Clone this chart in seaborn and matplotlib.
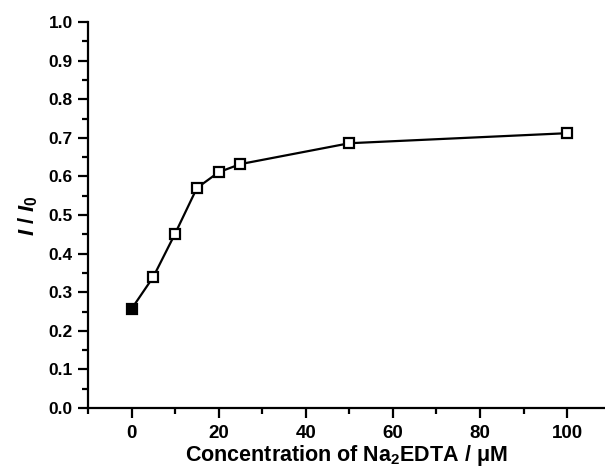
import matplotlib
matplotlib.use("Agg")
import matplotlib.pyplot as plt
import seaborn as sns
import pandas as pd
from matplotlib.ticker import MultipleLocator

conc = [0, 5, 10, 15, 20, 25, 50, 100]
ratio = [0.257, 0.340, 0.452, 0.570, 0.611, 0.632, 0.686, 0.712]

x_ticks = [0, 20, 40, 60, 80, 100]
y_ticks = [0.0, 0.1, 0.2, 0.3, 0.4, 0.5, 0.6, 0.7, 0.8, 0.9, 1.0]

sns.set_theme(style="ticks")
plt.rcParams["font.family"] = ["Liberation Sans", "DejaVu Sans"]
plt.rcParams["font.weight"] = "bold"
plt.rcParams["text.color"] = "black"
plt.rcParams["axes.labelcolor"] = "black"
plt.rcParams["mathtext.fontset"] = "custom"
plt.rcParams["mathtext.rm"] = "Liberation Sans:bold"
plt.rcParams["mathtext.it"] = "Liberation Sans:italic:bold"
plt.rcParams["mathtext.bf"] = "Liberation Sans:bold"

df = pd.DataFrame({"conc": conc, "ratio": ratio})

fig = plt.figure(figsize=(6.05, 4.68), dpi=100)
ax = fig.add_axes([0.1455, 0.128, 0.853, 0.825])

sns.lineplot(data=df, x="conc", y="ratio", ax=ax, color="black", linewidth=1.6,
             marker="s", markersize=7, markerfacecolor="white",
             markeredgecolor="black", markeredgewidth=1.6, zorder=3)
sns.scatterplot(data=df.iloc[[0]], x="conc", y="ratio", ax=ax, color="black",
                marker="s", s=60, edgecolor="black", linewidth=1.2, zorder=4)

ax.set_xlim(-10, 108.5)
ax.set_ylim(0, 1.0)
ax.set_xticks(x_ticks)
ax.set_yticks(y_ticks)
ax.set_yticklabels([f"{v:.1f}" for v in y_ticks])
ax.xaxis.set_minor_locator(MultipleLocator(10))
ax.yaxis.set_minor_locator(MultipleLocator(0.05))
ax.tick_params(which="major", direction="out", length=7, width=1.6,
               color="black", labelcolor="black")
ax.tick_params(axis="x", which="major", labelsize=13.5, pad=5)
ax.tick_params(axis="y", which="major", labelsize=12.5, pad=4)
ax.tick_params(which="minor", direction="out", length=4, width=1.6, color="black")
for lab in ax.get_xticklabels() + ax.get_yticklabels():
    lab.set_fontweight("bold")

sns.despine(ax=ax)
for s in ["left", "bottom"]:
    ax.spines[s].set_linewidth(1.6)
    ax.spines[s].set_color("black")

ax.set_xlabel("Concentration of Na$_2$EDTA / μM", fontsize=15.5, fontweight="bold", labelpad=1)
ax.set_ylabel("$I$ / $I_0$", fontsize=16, fontweight="bold", labelpad=6)

fig.savefig("out.png", dpi=100)
